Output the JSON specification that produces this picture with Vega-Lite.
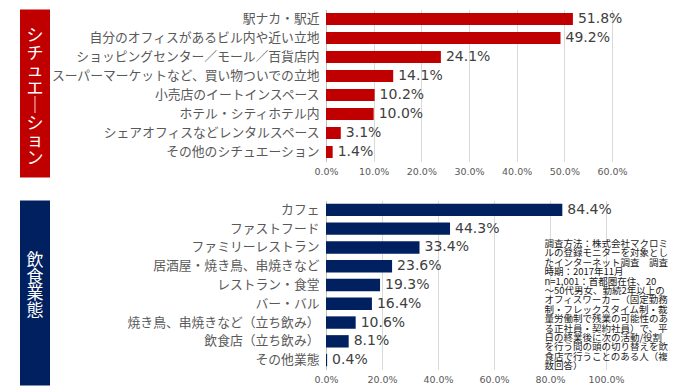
{
  "$schema": "https://vega.github.io/schema/vega-lite/v6.json",
  "padding": {"left": 20, "top": 9.5, "right": 0, "bottom": 0},
  "background": "white",
  "config": {"view": {"stroke": null}},
  "datasets": {
    "situation": [
      {"cat": "駅ナカ・駅近", "value": 0.518},
      {"cat": "自分のオフィスがあるビル内や近い立地", "value": 0.492},
      {"cat": "ショッピングセンター／モール／百貨店内", "value": 0.241},
      {"cat": "スーパーマーケットなど、買い物ついでの立地", "value": 0.141},
      {"cat": "小売店のイートインスペース", "value": 0.102},
      {"cat": "ホテル・シティホテル内", "value": 0.100},
      {"cat": "シェアオフィスなどレンタルスペース", "value": 0.031},
      {"cat": "その他のシチュエーション", "value": 0.014}
    ],
    "food": [
      {"cat": "カフェ", "value": 0.844},
      {"cat": "ファストフード", "value": 0.443},
      {"cat": "ファミリーレストラン", "value": 0.334},
      {"cat": "居酒屋・焼き鳥、串焼きなど", "value": 0.236},
      {"cat": "レストラン・食堂", "value": 0.193},
      {"cat": "バー・バル", "value": 0.164},
      {"cat": "焼き鳥、串焼きなど（立ち飲み）", "value": 0.106},
      {"cat": "飲食店（立ち飲み）", "value": 0.081},
      {"cat": "その他業態", "value": 0.004}
    ]
  },
  "columns": 2,
  "align": "each",
  "spacing": {"row": 23, "column": 0},
  "concat": [
    {
      "width": 30,
      "height": 168,
      "data": {"values": [{"label": "シ\nチ\nュ\nエ\n｜\nシ\nョ\nン"}]},
      "layer": [
        {"mark": {"type": "rect", "color": "#C00000"}, "encoding": {}},
        {"mark": {"type": "text", "color": "white", "font": "Noto Sans CJK JP", "fontSize": 17, "lineBreak": "\n", "lineHeight": 17.5, "baseline": "middle", "dy": -57.5}, "encoding": {"text": {"field": "label"}}}
      ]
    },
    {
      "width": 286,
      "height": 152,
      "data": {"name": "situation"},
      "encoding": {
        "y": {"field": "cat", "type": "nominal", "sort": null,
          "scale": {"paddingInner": 0.37, "paddingOuter": 0.185},
          "axis": {"title": null, "ticks": false, "labelPadding": 7, "domainColor": "#bfbfbf", "labelFont": "Noto Sans CJK JP", "labelFontSize": 12.8, "labelColor": "#595959", "labelLimit": 400, "grid": false}},
        "x": {"field": "value", "type": "quantitative", "scale": {"domain": [0, 0.6]},
          "axis": {"title": null, "format": ".1%", "values": [0, 0.1, 0.2, 0.3, 0.4, 0.5, 0.6], "grid": true, "gridColor": "#d9d9d9", "domain": false, "ticks": false, "labelFont": "DejaVu Sans", "labelFontSize": 9.5, "labelColor": "#595959", "labelPadding": 5, "labelFlush": false, "labelOverlap": false}}
      },
      "layer": [
        {"mark": {"type": "bar", "color": "#C00000"}},
        {"mark": {"type": "text", "align": "left", "baseline": "middle", "dx": 5, "font": "DejaVu Sans", "fontSize": 14, "color": "#404040"},
          "encoding": {"text": {"field": "value", "format": ".1%"}}}
      ]
    },
    {
      "width": 30,
      "height": 185,
      "data": {"values": [{"label": "飲\n食\n業\n態"}]},
      "layer": [
        {"mark": {"type": "rect", "color": "#002060"}, "encoding": {}},
        {"mark": {"type": "text", "color": "white", "font": "Noto Sans CJK JP", "fontSize": 17, "lineBreak": "\n", "lineHeight": 16.5, "baseline": "middle", "dy": -32}, "encoding": {"text": {"field": "label"}}}
      ]
    },
    {
      "width": 280,
      "height": 169,
      "layer": [
        {
          "data": {"name": "food"},
          "mark": {"type": "bar", "color": "#002060"},
          "encoding": {
            "y": {"field": "cat", "type": "nominal", "sort": null,
              "scale": {"paddingInner": 0.34, "paddingOuter": 0.17},
              "axis": {"title": null, "ticks": false, "labelPadding": 7, "domainColor": "#bfbfbf", "labelFont": "Noto Sans CJK JP", "labelFontSize": 12.8, "labelColor": "#595959", "labelLimit": 400, "grid": false}},
            "x": {"field": "value", "type": "quantitative", "scale": {"domain": [0, 1]},
              "axis": {"title": null, "format": ".1%", "values": [0, 0.2, 0.4, 0.6, 0.8, 1.0], "grid": true, "gridColor": "#d9d9d9", "domain": false, "ticks": false, "labelFont": "DejaVu Sans", "labelFontSize": 9.5, "labelColor": "#595959", "labelPadding": 5, "labelFlush": false, "labelOverlap": false}}
          }
        },
        {
          "data": {"name": "food"},
          "mark": {"type": "text", "align": "left", "baseline": "middle", "dx": 5, "font": "DejaVu Sans", "fontSize": 14, "color": "#404040"},
          "encoding": {
            "y": {"field": "cat", "type": "nominal", "sort": null},
            "x": {"field": "value", "type": "quantitative"},
            "text": {"field": "value", "format": ".1%"}
          }
        },
        {
          "data": {"values": [{"note": "調査方法：株式会社マクロミ\nルの登録モニターを対象とし\nたインターネット調査　調査\n時期：2017年11月\nn=1,001：首都圏在住、20\n～50代男女、勤続2年以上の\nオフィスワーカー（固定勤務\n制・フレックスタイム制・裁\n量労働制で残業の可能性のあ\nる正社員・契約社員）で、平\n日の終業後に次の活動/役割\nを行う間の頭の切り替えを飲\n食店で行うことのある人（複\n数回答）"}]},
          "mark": {"type": "text", "align": "left", "baseline": "top", "dy": -8.5, "font": "Noto Sans CJK JP", "fontSize": 9.5, "lineHeight": 9.4, "lineBreak": "\n", "color": "#1a1a1a"},
          "encoding": {
            "x": {"datum": 0.78, "type": "quantitative"},
            "y": {"datum": "ファミリーレストラン", "type": "nominal"},
            "text": {"field": "note"}
          }
        }
      ]
    }
  ]
}
